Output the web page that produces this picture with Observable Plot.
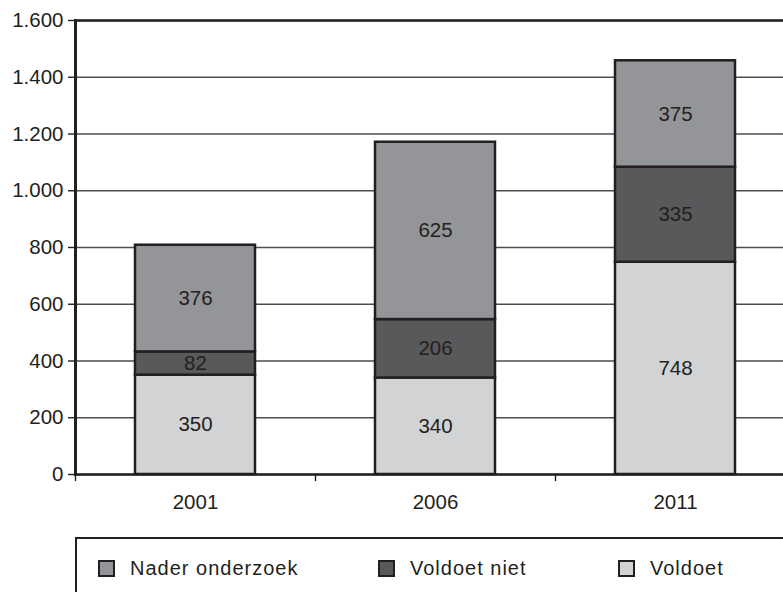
<!DOCTYPE html>
<html>
<head>
<meta charset="utf-8">
<script src="https://cdn.jsdelivr.net/npm/d3@7"></script>
<script src="https://cdn.jsdelivr.net/npm/@observablehq/plot@0.6"></script>
<style>
  html, body { margin: 0; padding: 0; background: #fff; overflow: hidden; width: 783px; height: 592px; }
  body { font-family: "Liberation Sans", Arial, Helvetica, sans-serif; color: #231f20; }
  #legend { position: relative; margin-left: 75px; margin-top: 17px; width: 760px; height: 80px;
    border-top: 2.5px solid #231f20; border-left: 2.5px solid #231f20; }
  .item { position: absolute; top: 18px; display: flex; align-items: center; font-size: 20px; letter-spacing: 1px; }
  .sw { width: 13px; height: 13px; border: 2px solid #231f20; margin-right: 15px; }
</style>
</head>
<body>
<div id="chart"></div>
<div id="legend"></div>
<script>
const years = ["2001", "2006", "2011"];
const series = ["Nader onderzoek", "Voldoet niet", "Voldoet"];
const stackOrder = ["Voldoet", "Voldoet niet", "Nader onderzoek"];
const naderOnderzoek = [376, 625, 375];
const voldoetNiet = [82, 206, 335];
const voldoet = [350, 340, 748];
const colors = ["#939598", "#58595b", "#d1d3d4"];
const yTicks = [0, 200, 400, 600, 800, 1000, 1200, 1400, 1600];

const data = [];
years.forEach((yr, i) => {
  data.push({year: yr, series: "Voldoet", value: voldoet[i]});
  data.push({year: yr, series: "Voldoet niet", value: voldoetNiet[i]});
  data.push({year: yr, series: "Nader onderzoek", value: naderOnderzoek[i]});
});

const nl = d3.formatLocale({decimal: ",", thousands: ".", grouping: [3], currency: ["€", ""]});
const fmt = nl.format(",d");
const ink = "#231f20";
const fs = 20.5;

const chart = Plot.plot({
  width: 783,
  height: 520,
  marginLeft: 75,
  marginRight: 0,
  marginTop: 20,
  marginBottom: 46,
  style: {fontFamily: "'Liberation Sans', Arial, Helvetica, sans-serif", fontSize: fs + "px", color: ink, background: "white"},
  x: {type: "band", domain: years, range: [75, 795], paddingInner: 0.5, paddingOuter: 0.25, label: null},
  y: {domain: [0, 1600], label: null},
  color: {domain: series, range: colors},
  marks: [
    Plot.ruleY(yTicks, {stroke: "#4d4d4f", strokeWidth: 1.4}),
    Plot.barY(data, Plot.stackY({x: "year", y: "value", fill: "series", order: stackOrder, stroke: ink, strokeWidth: 2.5})),
    Plot.text(data, Plot.stackY({x: "year", y: "value", z: "series", order: stackOrder, text: "value", fill: ink, fontSize: fs})),
    Plot.ruleY([1600], {stroke: ink, strokeWidth: 2.5}),
    Plot.ruleY([0], {stroke: ink, strokeWidth: 2.5}),
    Plot.frame({anchor: "left", stroke: ink, strokeWidth: 3}),
    Plot.axisY({ticks: yTicks, tickSize: 7, tickPadding: 5, tickFormat: fmt, fontSize: fs, stroke: ink, strokeWidth: 1.4, fill: ink, label: null}),
    Plot.axisX({tickSize: 0, tickPadding: 20, fontSize: fs, fill: ink, label: null}),
    Plot.axisX({tickSize: 7, tickFormat: () => "", dx: -120, stroke: ink, strokeWidth: 1.4, label: null})
  ]
});
document.getElementById("chart").appendChild(chart);

const legend = document.getElementById("legend");
const offsets = [21, 301, 541];
series.forEach((s, i) => {
  const it = document.createElement("div");
  it.className = "item";
  it.style.left = offsets[i] + "px";
  const sw = document.createElement("span");
  sw.className = "sw";
  sw.style.background = colors[i];
  const t = document.createElement("span");
  t.textContent = s;
  it.appendChild(sw);
  it.appendChild(t);
  legend.appendChild(it);
});
</script>
</body>
</html>
